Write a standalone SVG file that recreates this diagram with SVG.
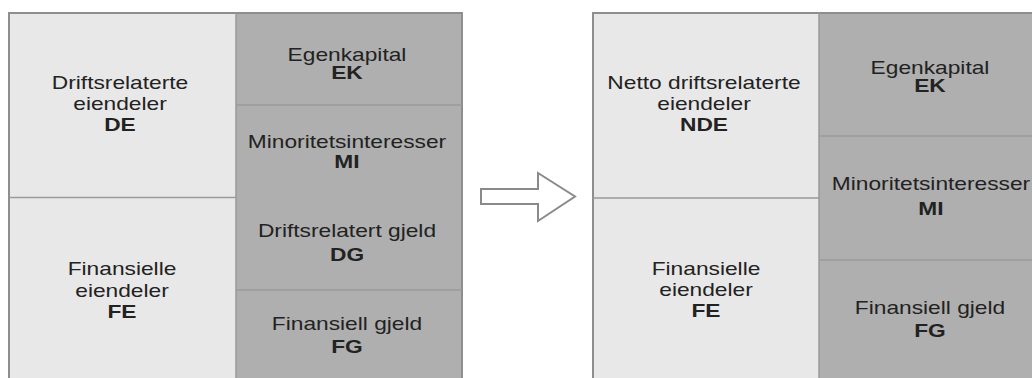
<svg xmlns="http://www.w3.org/2000/svg" width="1032" height="378" viewBox="0 0 1032 378">
<style>
.lt{fill:#e8e8e8}
.dk{fill:#afafaf}
.frame{fill:none;stroke:#8e8e8e;stroke-width:2}
.div{stroke:#9a9a9a;stroke-width:1.5}
.t{font-family:"Liberation Sans",Arial,sans-serif;font-size:17.5px;fill:#222;text-anchor:middle}
.b{font-weight:bold}
.arrow{fill:#fff;stroke:#8a8a8a;stroke-width:2;stroke-linejoin:miter}
</style>
<rect width="1032" height="378" fill="#fff"/>

<!-- Left panel -->
<g id="DE">
<rect class="lt" x="9" y="13" width="227" height="184"/>
<text class="t" transform="translate(120 89) scale(1.3 1)">Driftsrelaterte</text>
<text class="t" transform="translate(120 110) scale(1.3 1)">eiendeler</text>
<text class="t b" transform="translate(120 131) scale(1.3 1)">DE</text>
</g>
<g id="FE">
<rect class="lt" x="9" y="198" width="227" height="180"/>
<text class="t" transform="translate(122 275) scale(1.3 1)">Finansielle</text>
<text class="t" transform="translate(122 297) scale(1.3 1)">eiendeler</text>
<text class="t b" transform="translate(122 318) scale(1.3 1)">FE</text>
</g>
<g id="EK">
<rect class="dk" x="236" y="13" width="226" height="92"/>
<text class="t" transform="translate(347 61) scale(1.3 1)">Egenkapital</text>
<text class="t b" transform="translate(347 79) scale(1.3 1)">EK</text>
</g>
<g id="MI">
<rect class="dk" x="236" y="105" width="226" height="93"/>
<text class="t" transform="translate(347 148) scale(1.3 1)">Minoritetsinteresser</text>
<text class="t b" transform="translate(347 168) scale(1.3 1)">MI</text>
</g>
<g id="DG">
<rect class="dk" x="236" y="198" width="226" height="92"/>
<text class="t" transform="translate(347 237) scale(1.3 1)">Driftsrelatert gjeld</text>
<text class="t b" transform="translate(347 261) scale(1.3 1)">DG</text>
</g>
<g id="FG">
<rect class="dk" x="236" y="290" width="226" height="88"/>
<text class="t" transform="translate(347 330) scale(1.3 1)">Finansiell gjeld</text>
<text class="t b" transform="translate(347 353) scale(1.3 1)">FG</text>
</g>
<g id="left-frame">
<path class="frame" d="M9 378V13H462V378"/>
<line class="div" x1="9" y1="197.5" x2="236" y2="197.5"/>
<line class="div" x1="236" y1="105" x2="462" y2="105"/>
<line class="div" x1="236" y1="290" x2="462" y2="290"/>
<line class="div" x1="236" y1="13" x2="236" y2="378"/>
</g>

<!-- Right panel -->
<g id="NDE">
<rect class="lt" x="593" y="13" width="226" height="185"/>
<text class="t" transform="translate(704 89) scale(1.3 1)">Netto driftsrelaterte</text>
<text class="t" transform="translate(704 110) scale(1.3 1)">eiendeler</text>
<text class="t b" transform="translate(704 131) scale(1.3 1)">NDE</text>
</g>
<g id="FE2">
<rect class="lt" x="593" y="198" width="226" height="180"/>
<text class="t" transform="translate(706 275) scale(1.3 1)">Finansielle</text>
<text class="t" transform="translate(706 296) scale(1.3 1)">eiendeler</text>
<text class="t b" transform="translate(706 317) scale(1.3 1)">FE</text>
</g>
<g id="EK2">
<rect class="dk" x="819" y="13" width="213" height="123"/>
<text class="t" transform="translate(930 74) scale(1.3 1)">Egenkapital</text>
<text class="t b" transform="translate(930 92) scale(1.3 1)">EK</text>
</g>
<g id="MI2">
<rect class="dk" x="819" y="136" width="213" height="124"/>
<text class="t" transform="translate(931 190) scale(1.3 1)">Minoritetsinteresser</text>
<text class="t b" transform="translate(931 215) scale(1.3 1)">MI</text>
</g>
<g id="FG2">
<rect class="dk" x="819" y="260" width="213" height="118"/>
<text class="t" transform="translate(930 314) scale(1.3 1)">Finansiell gjeld</text>
<text class="t b" transform="translate(930 337) scale(1.3 1)">FG</text>
</g>
<g id="right-frame">
<path class="frame" d="M593 378V13H1032"/>
<line class="div" x1="593" y1="198" x2="819" y2="198"/>
<line class="div" x1="819" y1="136" x2="1032" y2="136"/>
<line class="div" x1="819" y1="260" x2="1032" y2="260"/>
<line class="div" x1="819" y1="13" x2="819" y2="378"/>
</g>

<!-- Connector -->
<g id="connectors">
<polygon class="arrow" points="481,189 538,189 538,173 575,196.5 538,221 538,204 481,204"/>
</g>
</svg>
